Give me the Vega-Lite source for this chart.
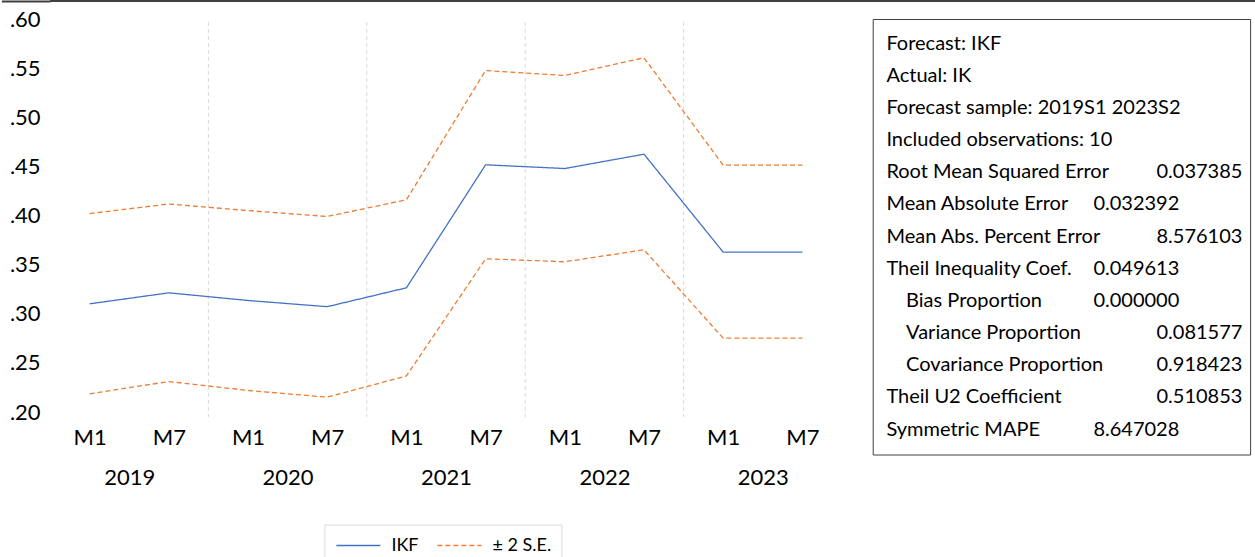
{
  "$schema": "https://vega.github.io/schema/vega-lite/v6.json",
  "background": "white",
  "padding": {"left": 0, "top": 0, "right": 0, "bottom": 0},
  "config": {
    "font": "Lato",
    "view": {"stroke": null},
    "axis": {"domain": false, "ticks": false, "tickSize": 0, "grid": false, "labelFont": "Lato", "labelFontSize": 22, "labelColor": "#000000", "labelFlush": false, "labelOverlap": false},
    "legend": {"labelFont": "Lato", "labelFontSize": 18, "labelColor": "#000000"}
  },
  "columns": 1,
  "align": "none",
  "spacing": 6,
  "concat": [
    {
      "width": 1206.4,
      "height": 2,
      "view": {"fill": "#404040", "stroke": null},
      "data": {"values": [{"t": 0.5}]},
      "mark": {"type": "point", "size": 0, "opacity": 0},
      "encoding": {
        "y": {
          "field": "t", "type": "quantitative",
          "scale": {"domain": [0, 1], "nice": false, "zero": false},
          "axis": {"values": [0.5], "ticks": true, "tickSize": 48.6, "tickWidth": 2, "tickColor": "#404040", "tickRound": false, "labels": false, "domain": false, "title": null, "minExtent": 48.6}
        }
      }
    },
    {
      "spacing": 29.7,
      "hconcat": [
        {
          "width": 792,
          "height": 393,
          "layer": [
            {
              "data": {"values": [{"b": 1.5}, {"b": 3.5}, {"b": 5.5}, {"b": 7.5}]},
              "mark": {"type": "rule", "color": "#d9d9d9", "strokeDash": [4, 3], "strokeWidth": 1},
              "encoding": {
                "x": {
                  "field": "b", "type": "quantitative",
                  "scale": {"domain": [-0.5, 9.5], "nice": false, "zero": false},
                  "axis": {"orient": "bottom", "values": [0, 1, 2, 3, 4, 5, 6, 7, 8, 9], "labelExpr": "datum.value % 2 == 0 ? 'M1' : 'M7'", "labelPadding": 15, "title": null}
                },
                "y": {
                  "datum": 0.597, "type": "quantitative",
                  "scale": {"domain": [0.2, 0.6], "nice": false, "zero": false},
                  "axis": {"values": [0.2, 0.25, 0.3, 0.35, 0.4, 0.45, 0.5, 0.55, 0.6], "labelExpr": "replace(format(datum.value, '.2f'), '0.', '.')", "labelAlign": "left", "labelBaseline": "middle", "labelPadding": 40.6, "minExtent": 48.6, "title": null}
                },
                "y2": {"datum": 0.195}
              }
            },
            {
              "data": {"values": [
                {"i": 0, "period": "M1", "year": 2019, "series": "IKF", "band": "forecast", "value": 0.3101},
                {"i": 1, "period": "M7", "year": 2019, "series": "IKF", "band": "forecast", "value": 0.3213},
                {"i": 2, "period": "M1", "year": 2020, "series": "IKF", "band": "forecast", "value": 0.3135},
                {"i": 3, "period": "M7", "year": 2020, "series": "IKF", "band": "forecast", "value": 0.3072},
                {"i": 4, "period": "M1", "year": 2021, "series": "IKF", "band": "forecast", "value": 0.3264},
                {"i": 5, "period": "M7", "year": 2021, "series": "IKF", "band": "forecast", "value": 0.4516},
                {"i": 6, "period": "M1", "year": 2022, "series": "IKF", "band": "forecast", "value": 0.4478},
                {"i": 7, "period": "M7", "year": 2022, "series": "IKF", "band": "forecast", "value": 0.4624},
                {"i": 8, "period": "M1", "year": 2023, "series": "IKF", "band": "forecast", "value": 0.3627},
                {"i": 9, "period": "M7", "year": 2023, "series": "IKF", "band": "forecast", "value": 0.3627},
                {"i": 0, "period": "M1", "year": 2019, "series": "± 2 S.E.", "band": "upper", "value": 0.402},
                {"i": 1, "period": "M7", "year": 2019, "series": "± 2 S.E.", "band": "upper", "value": 0.4117},
                {"i": 2, "period": "M1", "year": 2020, "series": "± 2 S.E.", "band": "upper", "value": 0.405},
                {"i": 3, "period": "M7", "year": 2020, "series": "± 2 S.E.", "band": "upper", "value": 0.399},
                {"i": 4, "period": "M1", "year": 2021, "series": "± 2 S.E.", "band": "upper", "value": 0.416},
                {"i": 5, "period": "M7", "year": 2021, "series": "± 2 S.E.", "band": "upper", "value": 0.5476},
                {"i": 6, "period": "M1", "year": 2022, "series": "± 2 S.E.", "band": "upper", "value": 0.5425},
                {"i": 7, "period": "M7", "year": 2022, "series": "± 2 S.E.", "band": "upper", "value": 0.5605},
                {"i": 8, "period": "M1", "year": 2023, "series": "± 2 S.E.", "band": "upper", "value": 0.4512},
                {"i": 9, "period": "M7", "year": 2023, "series": "± 2 S.E.", "band": "upper", "value": 0.4512},
                {"i": 0, "period": "M1", "year": 2019, "series": "± 2 S.E.", "band": "lower", "value": 0.2185},
                {"i": 1, "period": "M7", "year": 2019, "series": "± 2 S.E.", "band": "lower", "value": 0.231},
                {"i": 2, "period": "M1", "year": 2020, "series": "± 2 S.E.", "band": "lower", "value": 0.2219},
                {"i": 3, "period": "M7", "year": 2020, "series": "± 2 S.E.", "band": "lower", "value": 0.2151},
                {"i": 4, "period": "M1", "year": 2021, "series": "± 2 S.E.", "band": "lower", "value": 0.2367},
                {"i": 5, "period": "M7", "year": 2021, "series": "± 2 S.E.", "band": "lower", "value": 0.3559},
                {"i": 6, "period": "M1", "year": 2022, "series": "± 2 S.E.", "band": "lower", "value": 0.3529},
                {"i": 7, "period": "M7", "year": 2022, "series": "± 2 S.E.", "band": "lower", "value": 0.3651},
                {"i": 8, "period": "M1", "year": 2023, "series": "± 2 S.E.", "band": "lower", "value": 0.2751},
                {"i": 9, "period": "M7", "year": 2023, "series": "± 2 S.E.", "band": "lower", "value": 0.2751}
              ]},
              "mark": {"type": "line", "strokeWidth": 1.3},
              "encoding": {
                "x": {
                  "field": "i", "type": "quantitative",
                  "axis": {"orient": "bottom", "values": [0.5, 2.5, 4.5, 6.5, 8.5], "labelExpr": "['2019','2020','2021','2022','2023'][round((datum.value - 0.5) / 2)]", "labelPadding": 55, "title": null}
                },
                "y": {
                  "field": "value", "type": "quantitative",
                  "axis": {"values": [0.2, 0.25, 0.3, 0.35, 0.4, 0.45, 0.5, 0.55, 0.6], "labelExpr": "replace(format(datum.value, '.2f'), '0.', '.')", "labelAlign": "left", "labelBaseline": "middle", "labelPadding": 40.6, "minExtent": 48.6, "title": null}
                },
                "color": {
                  "field": "series", "type": "nominal",
                  "scale": {"domain": ["IKF", "± 2 S.E."], "range": ["#4472c4", "#ed7d31"]},
                  "legend": {"title": null, "orient": "none", "legendX": 274.4, "legendY": 524.5, "direction": "horizontal", "strokeColor": "#d9d9d9", "padding": 10, "symbolType": "M-2.2,0H2.2", "symbolSize": 400, "symbolOffset": 13, "symbolStrokeWidth": 1.3, "labelOffset": 22, "columnPadding": 15}
                },
                "strokeDash": {
                  "field": "series", "type": "nominal",
                  "scale": {"domain": ["IKF", "± 2 S.E."], "range": [[1, 0], [5, 3]]},
                  "legend": {"title": null, "orient": "none", "legendX": 274.4, "legendY": 524.5, "direction": "horizontal", "strokeColor": "#d9d9d9", "padding": 10, "symbolType": "M-2.2,0H2.2", "symbolSize": 400, "symbolOffset": 13, "symbolStrokeWidth": 1.3, "labelOffset": 22, "columnPadding": 15}
                },
                "detail": {"field": "band", "type": "nominal"}
              }
            }
          ],
          "resolve": {"axis": {"x": "independent"}}
        },
        {
          "width": 377.4,
          "height": 435.5,
          "view": {"stroke": "#404040", "strokeWidth": 1},
          "data": {"values": [
            {"row": 1, "label": "Forecast: IKF", "level": "main", "value": "", "tab": "none"},
            {"row": 2, "label": "Actual: IK", "level": "main", "value": "", "tab": "none"},
            {"row": 3, "label": "Forecast sample: 2019S1 2023S2", "level": "main", "value": "", "tab": "none"},
            {"row": 4, "label": "Included observations: 10", "level": "main", "value": "", "tab": "none"},
            {"row": 5, "label": "Root Mean Squared Error", "level": "main", "value": "0.037385", "tab": "right"},
            {"row": 6, "label": "Mean Absolute Error", "level": "main", "value": "0.032392", "tab": "left"},
            {"row": 7, "label": "Mean Abs. Percent Error", "level": "main", "value": "8.576103", "tab": "right"},
            {"row": 8, "label": "Theil Inequality Coef.", "level": "main", "value": "0.049613", "tab": "left"},
            {"row": 9, "label": "Bias Proportion", "level": "sub", "value": "0.000000", "tab": "left"},
            {"row": 10, "label": "Variance Proportion", "level": "sub", "value": "0.081577", "tab": "right"},
            {"row": 11, "label": "Covariance Proportion", "level": "sub", "value": "0.918423", "tab": "right"},
            {"row": 12, "label": "Theil U2 Coefficient", "level": "main", "value": "0.510853", "tab": "right"},
            {"row": 13, "label": "Symmetric MAPE", "level": "main", "value": "8.647028", "tab": "left"}
          ]},
          "encoding": {
            "y": {"field": "row", "type": "quantitative", "scale": {"domain": [1, 13], "range": [24.5, 410.5], "nice": false, "zero": false}, "axis": null}
          },
          "layer": [
            {
              "mark": {"type": "text", "align": "left", "baseline": "middle", "fontSize": 20, "font": "Lato", "color": "#000000"},
              "encoding": {
                "text": {"field": "label"},
                "x": {"field": "level", "type": "nominal", "scale": {"type": "point", "domain": ["main", "sub"], "range": [13.7, 33.4], "padding": 0}, "axis": null}
              }
            },
            {
              "transform": [{"filter": "datum.tab == 'left'"}],
              "mark": {"type": "text", "align": "left", "baseline": "middle", "fontSize": 20, "font": "Lato", "color": "#000000"},
              "encoding": {
                "text": {"field": "value"},
                "x": {"field": "tab", "type": "nominal", "scale": {"type": "point", "domain": ["left", "right"], "range": [220.7, 369.7], "padding": 0}, "axis": null}
              }
            },
            {
              "transform": [{"filter": "datum.tab == 'right'"}],
              "mark": {"type": "text", "align": "right", "baseline": "middle", "fontSize": 20, "font": "Lato", "color": "#000000"},
              "encoding": {
                "text": {"field": "value"},
                "x": {"field": "tab", "type": "nominal", "scale": {"type": "point", "domain": ["left", "right"], "range": [220.7, 369.7], "padding": 0}, "axis": null}
              }
            }
          ],
          "resolve": {"scale": {"x": "independent"}}
        }
      ]
    }
  ]
}
